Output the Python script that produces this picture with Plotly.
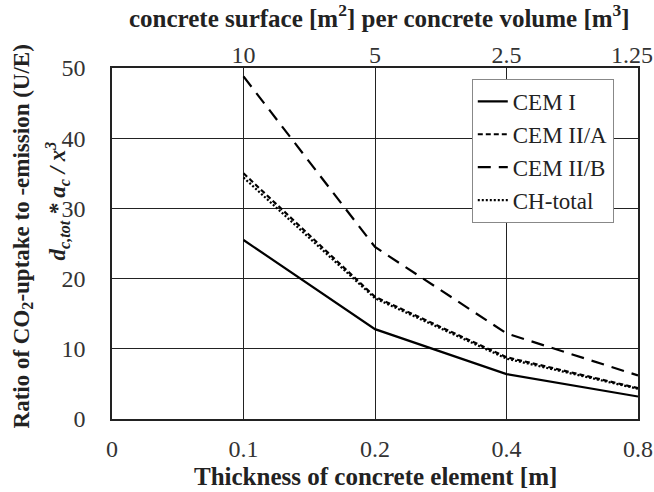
import plotly.graph_objects as go

thickness = ["0", "0.1", "0.2", "0.4", "0.8"]
surface_ratio = ["10", "5", "2.5", "1.25\u00a0\u00a0"]
x_vals = ["0.1", "0.2", "0.4", "0.8"]
cem1 = [25.5, 12.8, 6.4, 3.2]
cem2a = [35.0, 17.4, 8.8, 4.4]
cem2b = [48.8, 24.5, 12.2, 6.2]
ch_total = [34.4, 17.2, 8.6, 4.3]
y_ticks = [0, 10, 20, 30, 40, 50]

FONT = "Liberation Serif, Times New Roman, serif"
TXT = "#222"

fig = go.Figure()
series = [
    ("CEM I", cem1, "solid", 2.2),
    ("CEM II/A", cem2a, "5px,3px", 2.2),
    ("CEM II/B", cem2b, "13px,8px", 2.2),
    ("CH-total", ch_total, "2px,2px", 2.2),
]
for name, ys, dash, w in series:
    fig.add_trace(go.Scatter(x=x_vals, y=ys, name=name, mode="lines",
                             line=dict(color="black", width=w, dash=dash)))

# invisible trace to carry the top axis
fig.add_trace(go.Scatter(x=[1, 4], y=[cem1[0], cem1[-1]], xaxis="x2", mode="lines",
                         line=dict(width=0), showlegend=False, hoverinfo="skip",
                         opacity=0))

tickfont = dict(size=24, family=FONT, color="#333")
fig.update_layout(
    width=654, height=492,
    margin=dict(l=112, r=16, t=68, b=73, autoexpand=False),
    paper_bgcolor="white", plot_bgcolor="white",
    font=dict(family=FONT, color=TXT, size=22),
    xaxis=dict(type="category", categoryorder="array", categoryarray=thickness,
               range=[0, 4], showgrid=True, gridcolor="#222", gridwidth=1,
               showline=True, linecolor="#222", linewidth=1.5, mirror=False,
               ticks="", tickfont=tickfont, zeroline=False, automargin=False,
               ticklabelstandoff=7, ticklabeloverflow="allow"),
    xaxis2=dict(overlaying="x", side="top", range=[0, 4], showgrid=False,
                tickmode="array", tickvals=[1, 2, 3, 4], ticktext=surface_ratio,
                showline=True, linecolor="#222", linewidth=1.5, ticks="",
                tickfont=tickfont, zeroline=False, automargin=False,
                ticklabelstandoff=-6, ticklabeloverflow="allow"),
    yaxis=dict(range=[0, 50], tickvals=y_ticks, showgrid=True, gridcolor="#222",
               gridwidth=1, showline=True, linecolor="#222", linewidth=1.5,
               mirror=True, ticks="", tickfont=tickfont, zeroline=False,
               automargin=False, ticklabelstandoff=20),
    legend=dict(x=0.684, y=0.969, xanchor="left", yanchor="top",
                bgcolor="white", bordercolor="#888", borderwidth=1,
                font=dict(size=23, family=FONT, color=TXT),
                tracegroupgap=0, itemwidth=30),
    showlegend=True,
)

fig.add_annotation(text="<b>Thickness of concrete element [m]</b>", xref="paper", yref="paper",
                   x=0.5, y=0, yshift=-57, xanchor="center", yanchor="middle", showarrow=False,
                   font=dict(size=25, family=FONT, color=TXT))
fig.add_annotation(text="<b>concrete surface [m<sup>2</sup>] per concrete volume [m<sup>3</sup>]</b>",
                   xref="paper", yref="paper", x=0.508, y=1.0, yshift=52, xanchor="center",
                   yanchor="middle", showarrow=False, font=dict(size=25, family=FONT, color=TXT))
fig.add_annotation(text="<b>Ratio of CO<sub>2</sub>-uptake to -emission (U/E)</b>",
                   xref="paper", yref="paper", x=0, xshift=-89, y=0.52, textangle=-90,
                   xanchor="center", yanchor="middle",
                   showarrow=False, font=dict(size=23, family=FONT, color=TXT))
fig.add_annotation(text="<b><i>d<sub>c,tot</sub> * a<sub>c</sub> / x<sup>3</sup></i></b>",
                   xref="paper", yref="paper", x=0, xshift=-55, y=0.62, textangle=-90,
                   xanchor="center", yanchor="middle",
                   showarrow=False, font=dict(size=23, family=FONT, color=TXT))

fig.write_html(
    "out.html",
    config={"displayModeBar": False},
    post_script=(
        "document.documentElement.style.margin='0';"
        "document.documentElement.style.overflow='hidden';"
        "document.body.style.margin='0';"
        "document.body.style.overflow='hidden';"
    ),
)
